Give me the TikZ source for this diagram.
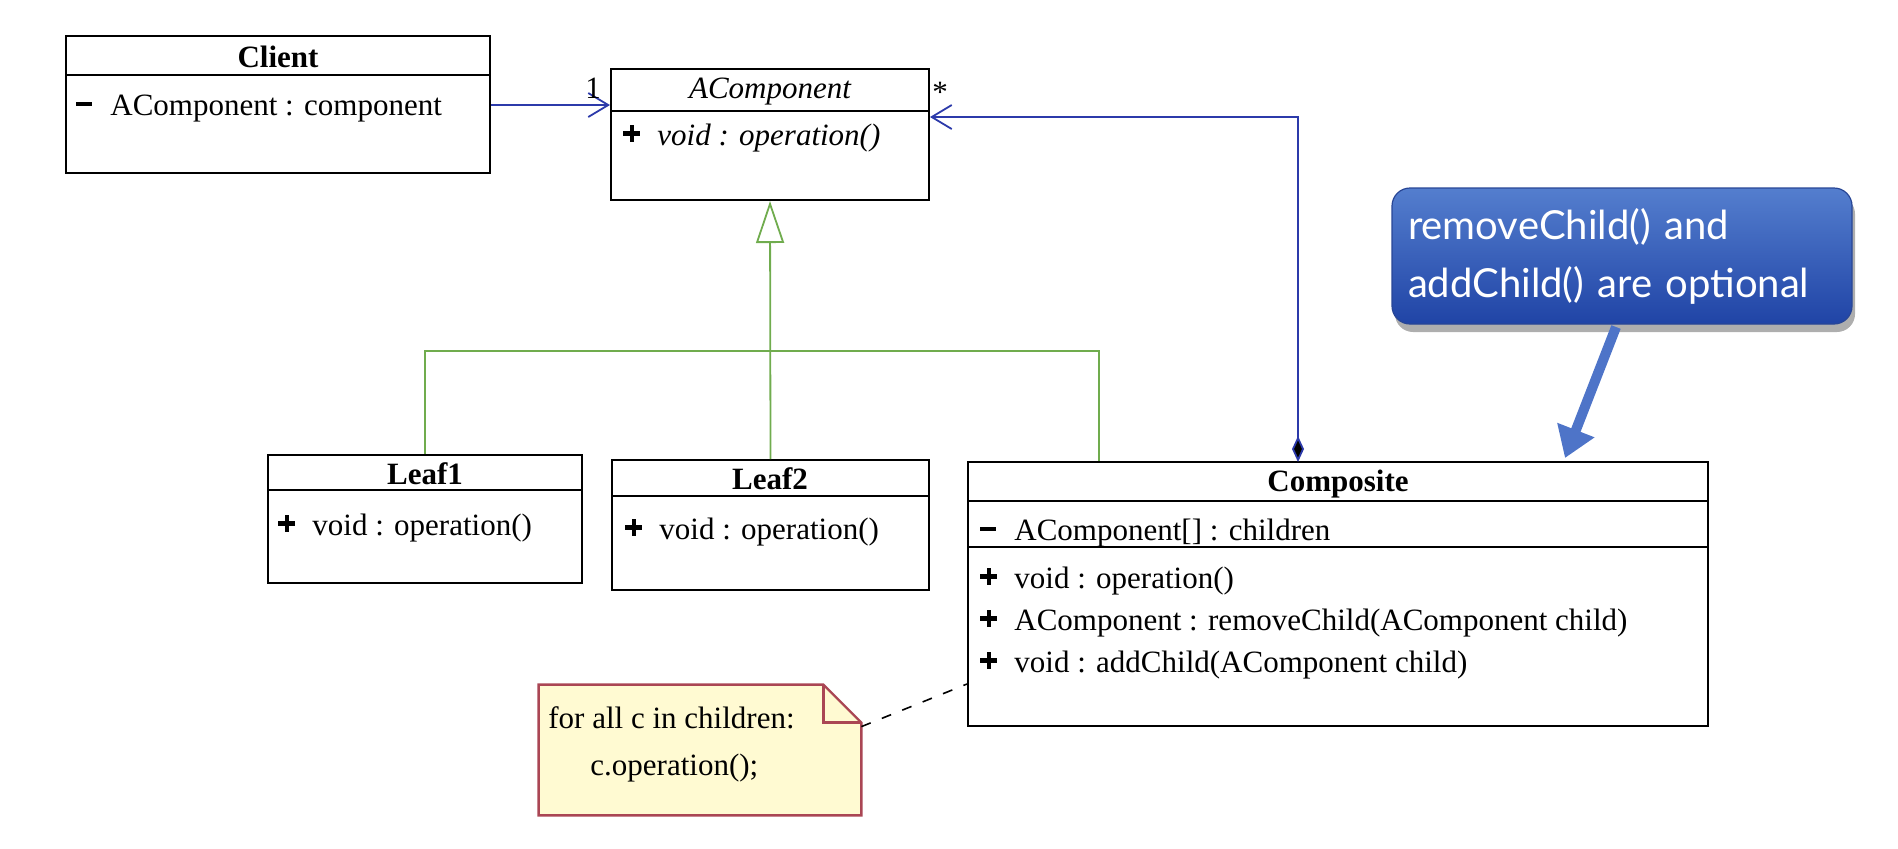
\documentclass[tikz,border=0pt]{standalone}
\usepackage{fontspec}
\setmainfont{Liberation Serif}
\newfontfamily\calloutfont{Lato}
\usetikzlibrary{
  calc,positioning,shadows,fit,
  arrows.meta
}

\definecolor{assocblue}{RGB}{44,58,170}
\definecolor{gengreen}{RGB}{112,172,78}
\definecolor{notefill}{RGB}{255,250,210}
\definecolor{noteedge}{RGB}{170,70,84}
\definecolor{tiptop}{RGB}{84,126,206}
\definecolor{tipbottom}{RGB}{32,68,166}
\definecolor{tipedge}{RGB}{40,70,150}
\definecolor{tiparrowcol}{RGB}{78,116,200}

\newcommand{\vispub}{\makebox[17pt][l]{\rule[0.3em]{0.55em}{0.15em}\hspace{-0.35em}\rule[0.1em]{0.15em}{0.55em}}}
\newcommand{\vispriv}{\makebox[17pt][l]{\rule[0.28em]{0.5em}{0.15em}}}

\tikzset{
  classbox/.style={draw=black,line width=1pt,fill=white,inner sep=0pt},
  classtitle/.style={font=\fontsize{15.5}{18}\selectfont\bfseries,inner sep=0pt},
  member/.style={font=\fontsize{15.5}{18}\selectfont,anchor=base west,inner sep=0pt},
  assoc/.style={draw=assocblue,line width=0.9pt},
  generalize/.style={draw=gengreen,line width=0.9pt},
  notebox/.style={draw=noteedge,fill=notefill,line width=1.2pt},
  notelink/.style={draw=black,line width=0.8pt,dash pattern=on 5pt off 6pt},
  callout/.style={rounded corners=9pt,draw=tipedge,line width=0.6pt,
    top color=tiptop,bottom color=tipbottom,text=white,
    font=\calloutfont\fontsize{20}{29}\selectfont,
    drop shadow={shadow xshift=1.5pt,shadow yshift=-4pt,opacity=0.45,fill=black!70}},
  calloutarrow/.style={draw=tiparrowcol,line width=5pt,
    -{Triangle[length=15pt,width=19pt]}}
}

\begin{document}
\begin{tikzpicture}[x=0.5pt,y=-0.5pt]
\useasboundingbox (0,0) rectangle (1898,848);

\node[classbox,fit={(66,36) (490,173)}] (client) {};
\draw[line width=1pt] (client.west |- 0,75) -- (client.east |- 0,75);
\node[classtitle] at (278,57) {Client};
\node[member] at (76,115) {\vispriv AComponent : component};

\node[classbox,fit={(611,69) (929,200)}] (acomp) {};
\draw[line width=1pt] (acomp.west |- 0,111) -- (acomp.east |- 0,111);
\node[classtitle,font=\fontsize{15.5}{18}\selectfont\itshape] at (770,92) {AComponent};
\node[member] at (623,145) {\vispub\textit{void : operation()}};

\node[classbox,fit={(268,455) (582,583)}] (leaf1) {};
\draw[line width=1pt] (leaf1.west |- 0,490) -- (leaf1.east |- 0,490);
\node[classtitle] at (425,474) {Leaf1};
\node[member] at (278,535) {\vispub void : operation()};

\node[classbox,fit={(612,460) (929,590)}] (leaf2) {};
\draw[line width=1pt] (leaf2.west |- 0,496) -- (leaf2.east |- 0,496);
\node[classtitle] at (770,479) {Leaf2};
\node[member] at (625,539) {\vispub void : operation()};

\node[classbox,fit={(968,462) (1708,726)}] (composite) {};
\draw[line width=1pt] (composite.west |- 0,501) -- (composite.east |- 0,501);
\draw[line width=1pt] (composite.west |- 0,547) -- (composite.east |- 0,547);
\node[classtitle] at (1338,484) {Composite};
\node[member] at (980,540) {\vispriv AComponent[] : children};
\node[member] at (980,588) {\vispub void : operation()};
\node[member] at (980,630) {\vispub AComponent : removeChild(AComponent child)};
\node[member] at (980,672) {\vispub void : addChild(AComponent child)};

\draw[assoc,-{Straight Barb[length=10pt,width=12pt]}] (client.east |- 0,105) -- (acomp.west |- 0,105);
\node[font=\fontsize{15.5}{18}\selectfont] (one) at (593,88) {1};

\coordinate (compjoin) at (1298,462);
\draw[assoc,{Diamond[length=13pt,width=6pt,fill=black]}-{Straight Barb[length=10pt,width=12pt]}]
  (compjoin) |- (acomp.east |- 0,117);
\node[font=\fontsize{15.5}{18}\selectfont] (many) at (940,92) {*};

\coordinate (genbar) at (770,351);
\draw[generalize] (leaf1.north) |- (genbar) -| (composite.north -| 1099,0);
\draw[generalize,-{Triangle[open,length=21pt,width=14pt,fill=white]}] (leaf2.north) -- (acomp.south);

\node[fit={(539,685) (861,815)},inner sep=0pt] (note) {};
\draw[notebox] (note.south west) -- (note.north west) -- ([xshift=-19pt]note.north east)
  -- ([yshift=-19pt]note.north east) -- (note.south east) -- cycle;
\draw[noteedge,line width=1.2pt] ([xshift=-19pt]note.north east) -- ++(0,-19pt) -- ([yshift=-19pt]note.north east);
\node[member] at (548,728) {for all c in children:};
\node[member] at (590,775) {c.operation();};
\draw[notelink] ([yshift=-21pt]note.north east) -- (composite.west |- 0,684);

\node[callout,minimum width=230pt,minimum height=68pt,text width=214pt,align=left,inner sep=0pt]
  (tip) at (1622,256) {removeChild() and\\addChild() are optional};
\coordinate (tipend) at (1565,458);
\draw[calloutarrow] (1616,327) -- (tipend);
\end{tikzpicture}
\end{document}
